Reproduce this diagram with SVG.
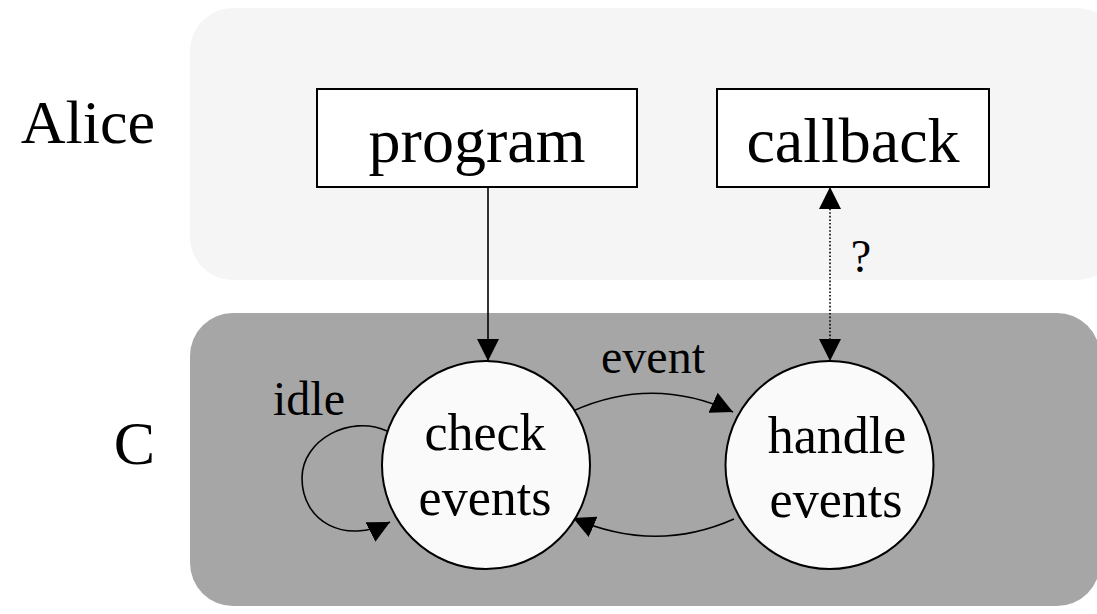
<svg xmlns="http://www.w3.org/2000/svg" width="1097" height="614" viewBox="0 0 1097 614">
<defs>
<style>
text{font-family:"Liberation Serif","Times New Roman",serif;fill:#000}
.big{font-size:62px}
.box{font-size:64px;text-anchor:middle}
.node{font-size:52px;text-anchor:middle}
.lbl{font-size:48px;text-anchor:middle}
.rect{fill:#fff;stroke:#000;stroke-width:2}
.circ{fill:#fafafa;stroke:#000;stroke-width:2}
.edge{fill:none;stroke:#000;stroke-width:1.6}
.dot{fill:none;stroke:#000;stroke-width:1.6;stroke-dasharray:1.6 2}
</style>
<marker id="ah" markerUnits="userSpaceOnUse" markerWidth="22" markerHeight="22" viewBox="0 0 20 20" refX="20" refY="10" orient="auto">
<path d="M0,0 L20,10 L0,20 z" fill="#000"/>
</marker>
<marker id="ahs" markerUnits="userSpaceOnUse" markerWidth="22" markerHeight="22" viewBox="0 0 20 20" refX="20" refY="10" orient="auto-start-reverse">
<path d="M0,0 L20,10 L0,20 z" fill="#000"/>
</marker>
</defs>
<rect width="1097" height="614" fill="#fff"/>
<g id="lane-alice">
<rect x="190" y="8" width="930" height="272" rx="43" ry="43" fill="#f5f5f5"/>
<text class="big" x="155" y="143" text-anchor="end">Alice</text>
</g>
<g id="lane-c">
<rect x="190" y="313" width="910" height="293" rx="43" ry="43" fill="#a6a6a6"/>
<text class="big" x="155" y="464" text-anchor="end">C</text>
</g>
<g id="connectors">
<line class="edge" x1="488" y1="187" x2="488" y2="361" marker-end="url(#ah)"/>
<line class="dot" x1="830" y1="187" x2="830" y2="361" marker-start="url(#ahs)" marker-end="url(#ah)"/>
<path class="edge" d="M387,431 C350,414 302,440 302,478 C302,522 345,545 390,522" marker-end="url(#ah)"/>
<path class="edge" d="M573,411 Q653,375 733,412" marker-end="url(#ah)"/>
<path class="edge" d="M734,519 Q655,554 573,518" marker-end="url(#ah)"/>
<text class="lbl" x="653" y="373">event</text>
<text class="lbl" x="309" y="415">idle</text>
<text class="lbl" x="861" y="272" style="font-size:46px">?</text>
</g>
<g id="program">
<rect class="rect" x="317" y="89" width="320" height="98"/>
<text class="box" x="477" y="162">program</text>
</g>
<g id="callback">
<rect class="rect" x="717" y="89" width="272" height="98"/>
<text class="box" x="853" y="162">callback</text>
</g>
<g id="check-events">
<circle class="circ" cx="486" cy="465" r="104"/>
<text class="node" x="485" y="450">check</text>
<text class="node" x="485" y="515">events</text>
</g>
<g id="handle-events">
<circle class="circ" cx="829.5" cy="465" r="104"/>
<text class="node" x="837" y="453">handle</text>
<text class="node" x="836" y="517">events</text>
</g>
</svg>
